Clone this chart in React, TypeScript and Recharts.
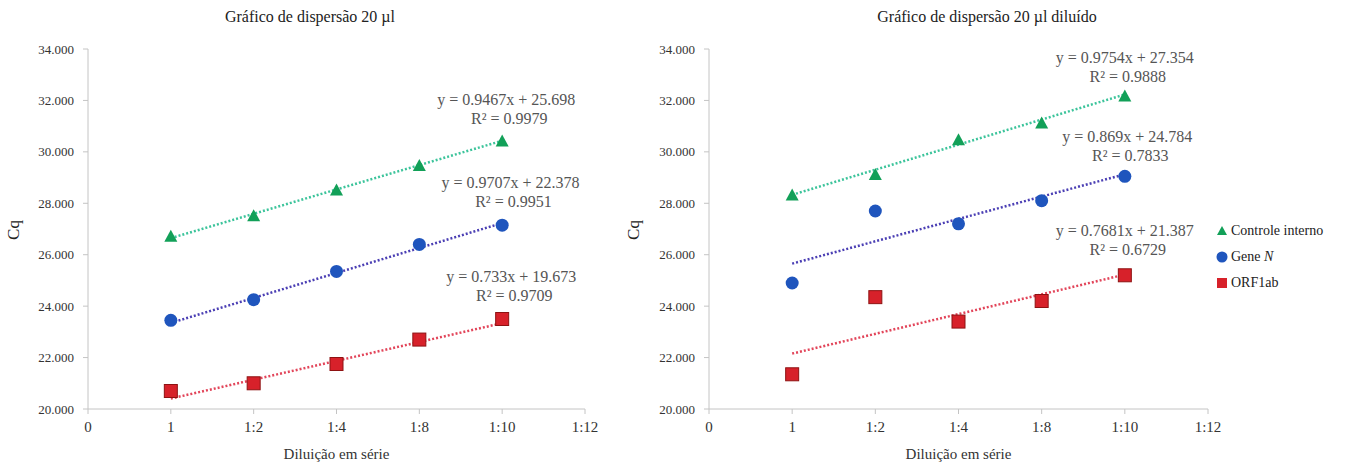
import React from "react";
import { ScatterChart, Scatter, XAxis, YAxis, ReferenceLine, ReferenceDot, Legend } from "recharts";

const dilutionLabels = ["0", "1", "1:2", "1:4", "1:8", "1:10", "1:12"];
const dilutionSteps = [1, 2, 3, 4, 5];
const cqTicks = [20, 22, 24, 26, 28, 30, 32, 34];
const seriesNames = ["Controle interno", "Gene N", "ORF1ab"];

// 20 µl
const controleCq20 = [26.7, 27.5, 28.5, 29.45, 30.4];
const geneNCq20 = [23.45, 24.25, 25.35, 26.4, 27.15];
const orf1abCq20 = [20.7, 21.0, 21.75, 22.7, 23.5];
const slopes20 = [0.9467, 0.9707, 0.733];
const intercepts20 = [25.698, 22.378, 19.673];
const rSquared20 = ["0.9979", "0.9951", "0.9709"];

// 20 µl diluído
const controleCqDil = [28.3, 29.1, 30.45, 31.1, 32.15];
const geneNCqDil = [24.9, 27.7, 27.2, 28.1, 29.05];
const orf1abCqDil = [21.35, 24.35, 23.4, 24.2, 25.2];
const slopesDil = [0.9754, 0.869, 0.7681];
const interceptsDil = [27.354, 24.784, 21.387];
const rSquaredDil = ["0.9888", "0.7833", "0.6729"];

const FONT = "'Liberation Serif', 'DejaVu Serif', serif";
const markerColors = ["#12a058", "#1f55bd", "#d7212a"];
const trendColors = ["#3cc49b", "#4b3fb4", "#e2455a"];
const AXIS = "#c4c4c4";

// where the equation text sits (data coords of first line centre)
const eqSpots20 = [
  [5.05, 32.02],
  [5.1, 28.79],
  [5.11, 25.14],
];
const eqSpotsDil = [
  [5.0, 33.66],
  [5.03, 30.58],
  [5.0, 26.93],
];

function Marker({ cx, cy, kind }: any) {
  if (cx == null || cy == null) return <g />;
  if (kind === 0) {
    return (
      <polygon
        points={`${cx},${cy - 7} ${cx - 6.5},${cy + 5} ${cx + 6.5},${cy + 5}`}
        fill={markerColors[0]}
      />
    );
  }
  if (kind === 1) return <circle cx={cx} cy={cy} r={6.5} fill={markerColors[1]} />;
  return (
    <rect x={cx - 6.5} y={cy - 6.5} width={13} height={13} fill={markerColors[2]} stroke="#8e1212" strokeWidth={1} />
  );
}

function EqLabel({ cx, cy, slope, intercept, r2 }: any) {
  return (
    <g fontFamily={FONT} fontSize={16} fill="#555">
      <text x={cx} y={cy} textAnchor="middle" dominantBaseline="central">
        {`y = ${slope}x + ${intercept.toFixed(3)}`}
      </text>
      <text x={cx + 3} y={cy + 19} textAnchor="middle" dominantBaseline="central">
        {`R² = ${r2}`}
      </text>
    </g>
  );
}

function LegendBox() {
  return (
    <div style={{ fontFamily: FONT, fontSize: 14, color: "#222" }}>
      {seriesNames.map((name, i) => (
        <div key={name} style={{ height: 26, display: "flex", alignItems: "center" }}>
          <svg width={12} height={12} style={{ marginRight: 3 }}>
            {i === 0 && <polygon points="6,1 1,10 11,10" fill={markerColors[0]} />}
            {i === 1 && <circle cx={6} cy={6} r={5.5} fill={markerColors[1]} />}
            {i === 2 && <rect x={1} y={1} width={10} height={10} fill={markerColors[2]} />}
          </svg>
          {name.endsWith(" N") ? (
            <span>
              Gene <i>N</i>
            </span>
          ) : (
            <span>{name}</span>
          )}
        </div>
      ))}
    </div>
  );
}

function DispersionChart({ series, slopes, intercepts, r2, spots, width, marginRight, yWidth, showLegend }: any) {
  return (
    <ScatterChart width={width} height={465} margin={{ top: 49, right: marginRight, bottom: 0, left: 0 }}>
      <XAxis
        type="number"
        dataKey="x"
        domain={[0, 6]}
        ticks={[0, 1, 2, 3, 4, 5, 6]}
        interval={0}
        tickFormatter={(v: number) => dilutionLabels[v]}
        stroke={AXIS}
        tickSize={5}
        tickMargin={7}
        height={56}
        tick={{ fill: "#333", fontSize: 15, fontFamily: FONT }}
        label={{ value: "Diluição em série", position: "insideBottom", offset: 6, fill: "#333", fontSize: 15, fontFamily: FONT }}
      />
      <YAxis
        type="number"
        dataKey="cq"
        domain={[20, 34]}
        ticks={cqTicks}
        interval={0}
        tickFormatter={(v: number) => v.toFixed(3)}
        stroke={AXIS}
        width={yWidth}
        tickSize={5}
        tickMargin={9}
        tick={{ fill: "#333", fontSize: 13, fontFamily: FONT }}
      />
      {slopes.map((s: number, i: number) => (
        <ReferenceLine
          key={`trend-${i}`}
          segment={[
            { x: 1, y: s * 1 + intercepts[i] },
            { x: 5, y: s * 5 + intercepts[i] },
          ]}
          stroke={trendColors[i]}
          strokeWidth={2.5}
          strokeDasharray="2 2"
        />
      ))}
      {series.map((vals: number[], i: number) => (
        <Scatter
          key={seriesNames[i]}
          name={seriesNames[i]}
          data={dilutionSteps.map((x, j) => ({ x, cq: vals[j] }))}
          isAnimationActive={false}
          shape={(p: any) => <Marker cx={p.cx} cy={p.cy} kind={i} />}
        />
      ))}
      {spots.map((sp: number[], i: number) => (
        <ReferenceDot
          key={`eq-${i}`}
          x={sp[0]}
          y={sp[1]}
          r={1}
          shape={(p: any) => (
            <EqLabel cx={p.cx} cy={p.cy} slope={slopes[i]} intercept={intercepts[i]} r2={r2[i]} />
          )}
        />
      ))}
      {showLegend && (
        <Legend
          layout="vertical"
          align="center"
          verticalAlign="middle"
          wrapperStyle={{ left: 596, top: 218, width: 136 }}
          content={() => <LegendBox />}
        />
      )}
    </ScatterChart>
  );
}

export default function App() {
  const title = { position: "absolute" as const, top: 8, fontSize: 16, color: "#222", textAlign: "center" as const, width: 400 };
  const cq = {
    position: "absolute" as const,
    top: 220,
    fontSize: 17,
    color: "#222",
    transform: "rotate(-90deg)",
  };
  return (
    <div style={{ position: "absolute", left: 0, top: 0, width: 1352, height: 465, background: "#fff", fontFamily: FONT, overflow: "hidden" }}>
      <div style={{ ...title, left: 110 }}>Gráfico de dispersão 20 µl</div>
      <div style={{ ...title, left: 787 }}>Gráfico de dispersão 20 µl diluído</div>
      <div style={{ ...cq, left: 4 }}>Cq</div>
      <div style={{ ...cq, left: 624 }}>Cq</div>
      <div style={{ position: "absolute", left: 0, top: 0 }}>
        <DispersionChart
          series={[controleCq20, geneNCq20, orf1abCq20]}
          slopes={slopes20}
          intercepts={intercepts20}
          r2={rSquared20}
          spots={eqSpots20}
          width={620}
          marginRight={35}
          yWidth={88}
          showLegend={false}
        />
      </div>
      <div style={{ position: "absolute", left: 620, top: 0 }}>
        <DispersionChart
          series={[controleCqDil, geneNCqDil, orf1abCqDil]}
          slopes={slopesDil}
          intercepts={interceptsDil}
          r2={rSquaredDil}
          spots={eqSpotsDil}
          width={732}
          marginRight={144}
          yWidth={89}
          showLegend={true}
        />
      </div>
    </div>
  );
}
